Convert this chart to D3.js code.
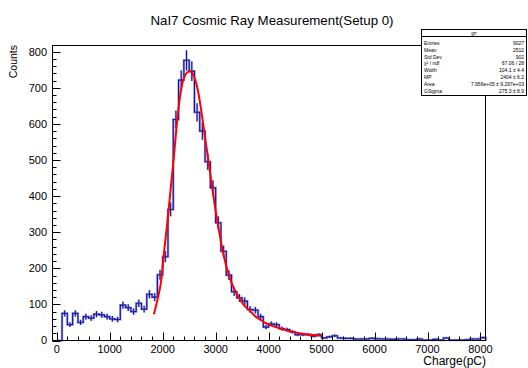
<!DOCTYPE html>
<html><head><meta charset="utf-8">
<script src="https://cdn.jsdelivr.net/npm/d3@7"></script>
<style>body{margin:0;background:#fff}svg{display:block}text{font-family:"Liberation Sans",Arial,sans-serif}</style>
</head><body><svg id="c" width="528" height="368"></svg>
<script>
// ---- data ----
const binWidth = 100;
const binLow = [0,100,200,300,400,500,600,700,800,900,1000,1100,1200,1300,1400,1500,1600,1700,1800,1900,
  2000,2100,2200,2300,2400,2500,2600,2700,2800,2900,3000,3100,3200,3300,3400,3500,3600,3700,3800,3900,
  4000,4100,4200,4300,4400,4500,4600,4700,4800,4900,5000,5100,5200,5300,5400,5500,5600,5700,5800,5900,
  6000,6100,6200,6300,6400,6500,6600,6700,6800,6900,7000,7100,7200,7300,7400,7500,7600,7700,7800,7900,8000];
const counts = [0,75,44,75,50,66,62,73,71,66,60,58,98,91,80,103,87,128,120,182,
  232,363,612,721,776,746,632,580,495,423,326,247,181,135,118,109,86,84,66,37,
  46,44,33,30,24,16,16,16,12,16,7,10,13,7,6,6,4,4,4,6,
  5,4,4,3,4,4,2,2,4,1,1,3,1,7,1,1,1,2,4,4,8];
const fitX = [1834,1960,2023,2087,2149,2212,2276,2338,2401,2465,2527,2590,2654,2716,2779,2843,2905,2968,3032,3094,3157,3221,3316,3410,3535,3662,3756,3851,3945,4134,4386,4639,4828,5000];
const fitY = [73,154,242,325,417,510,612,686,727,743,745,732,700,649,584,519,454,390,330,279,232,196,154,126,98,80,66,57,48,37,26,19,15,13];
const xTicks = [0,1000,2000,3000,4000,5000,6000,7000,8000];
const yTicks = [0,100,200,300,400,500,600,700,800];
const title = "NaI7 Cosmic Ray Measurement(Setup 0)";
const xTitle = "Charge(pC)", yTitle = "Counts";
const statsName = "grr";
const statsLabels = ["Entries","Mean","Std Dev","\u03C7\u00B2 / ndf","Width","MP","Area","GSigma"];
const statsValues = ["9027","2512","902","67.06 / 28","104.1 \u00B1 4.4","2404 \u00B1 6.2","7.956e+05 \u00B1 9.297e+03","275.3 \u00B1 8.9"];

// ---- layout ----
const L = 52.5, R = 485.5, T = 45.5, B = 340.5;
const svg = d3.select("#c");
const x = d3.scaleLinear().domain([-80, 8095]).range([L, R]);
const y = d3.scaleLinear().domain([0, 817]).range([B, T]);

// histogram step path
const pts = [[x(binLow[0]), y(0)]];
binLow.forEach((b, i) => {
  pts.push([x(b), y(counts[i])]);
  pts.push([x(b + binWidth), y(counts[i])]);
});
pts.push([x(binLow[binLow.length-1] + binWidth), y(0)]);
const line = d3.line();
const g = svg.append("g");
g.append("path").attr("d", line(pts)).attr("fill","none").attr("stroke","#7070d0").attr("stroke-width",2.4).attr("opacity",0.65);
g.append("path").attr("d", line(pts)).attr("fill","none").attr("stroke","#10109a").attr("stroke-width",1.1);

// error bars
binLow.forEach((b, i) => {
  const n = counts[i];
  if (n <= 0) return;
  const cx = x(b + binWidth/2), e = Math.sqrt(n);
  g.append("line").attr("x1",cx).attr("x2",cx).attr("y1",y(Math.max(0,n-e))).attr("y2",y(n+e))
    .attr("stroke","#7070d0").attr("stroke-width",2.2).attr("opacity",0.6);
  g.append("line").attr("x1",cx).attr("x2",cx).attr("y1",y(Math.max(0,n-e))).attr("y2",y(n+e))
    .attr("stroke","#10109a").attr("stroke-width",1);
});

// fit
const fitLine = d3.line().x(d => x(d[0])).y(d => y(d[1])).curve(d3.curveCatmullRom);
svg.append("path").attr("d", fitLine(fitX.map((v,i)=>[v,fitY[i]])))
  .attr("fill","none").attr("stroke","#ff0000").attr("stroke-width",2);

// frame
svg.append("rect").attr("x",L).attr("y",T).attr("width",R-L).attr("height",B-T)
  .attr("fill","none").attr("stroke","#000").attr("stroke-width",1);

// x ticks
const xMinor = d3.range(0, 8001, 200);
xMinor.forEach(v => {
  const major = v % 1000 === 0;
  const px = Math.round(x(v)) + 0.5;
  svg.append("line").attr("x1",px).attr("x2",px).attr("y1",B).attr("y2",B-(major?8:4)).attr("stroke","#000");
});
xTicks.forEach(v => {
  svg.append("text").attr("x",x(v)).attr("y",353).attr("text-anchor","middle").attr("font-size",11).text(v);
});
// y ticks
d3.range(0, 817, 20).forEach(v => {
  const major = v % 100 === 0;
  const py = Math.round(y(v)) + 0.5;
  svg.append("line").attr("x1",L).attr("x2",L+(major?8:4)).attr("y1",py).attr("y2",py).attr("stroke","#000");
});
yTicks.forEach(v => {
  svg.append("text").attr("x",47).attr("y",y(v)).attr("dy","0.36em").attr("text-anchor","end").attr("font-size",11).text(v);
});

// titles
svg.append("text").attr("x",272).attr("y",25).attr("text-anchor","middle").attr("font-size",13.3).text(title);
svg.append("text").attr("x",486).attr("y",365).attr("text-anchor","end").attr("font-size",12).text(xTitle);
svg.append("text").attr("transform","translate(17,45) rotate(-90)").attr("text-anchor","end").attr("font-size",10.5).text(yTitle);

// stats box
const sb = svg.append("g");
sb.append("rect").attr("x",421.5).attr("y",29.5).attr("width",105).attr("height",66).attr("fill","#fff").attr("stroke","#000");
sb.append("line").attr("x1",421.5).attr("x2",526.5).attr("y1",36.5).attr("y2",36.5).attr("stroke","#000");
sb.append("text").attr("x",474).attr("y",35).attr("text-anchor","middle").attr("font-size",4.5).text(statsName);
statsLabels.forEach((s,i) => {
  const yy = 44.7 + i*6.9;
  sb.append("text").attr("x",424).attr("y",yy).attr("font-size",5).text(s);
  sb.append("text").attr("x",524).attr("y",yy).attr("text-anchor","end").attr("font-size",5).text(statsValues[i]);
});
</script></body></html>
